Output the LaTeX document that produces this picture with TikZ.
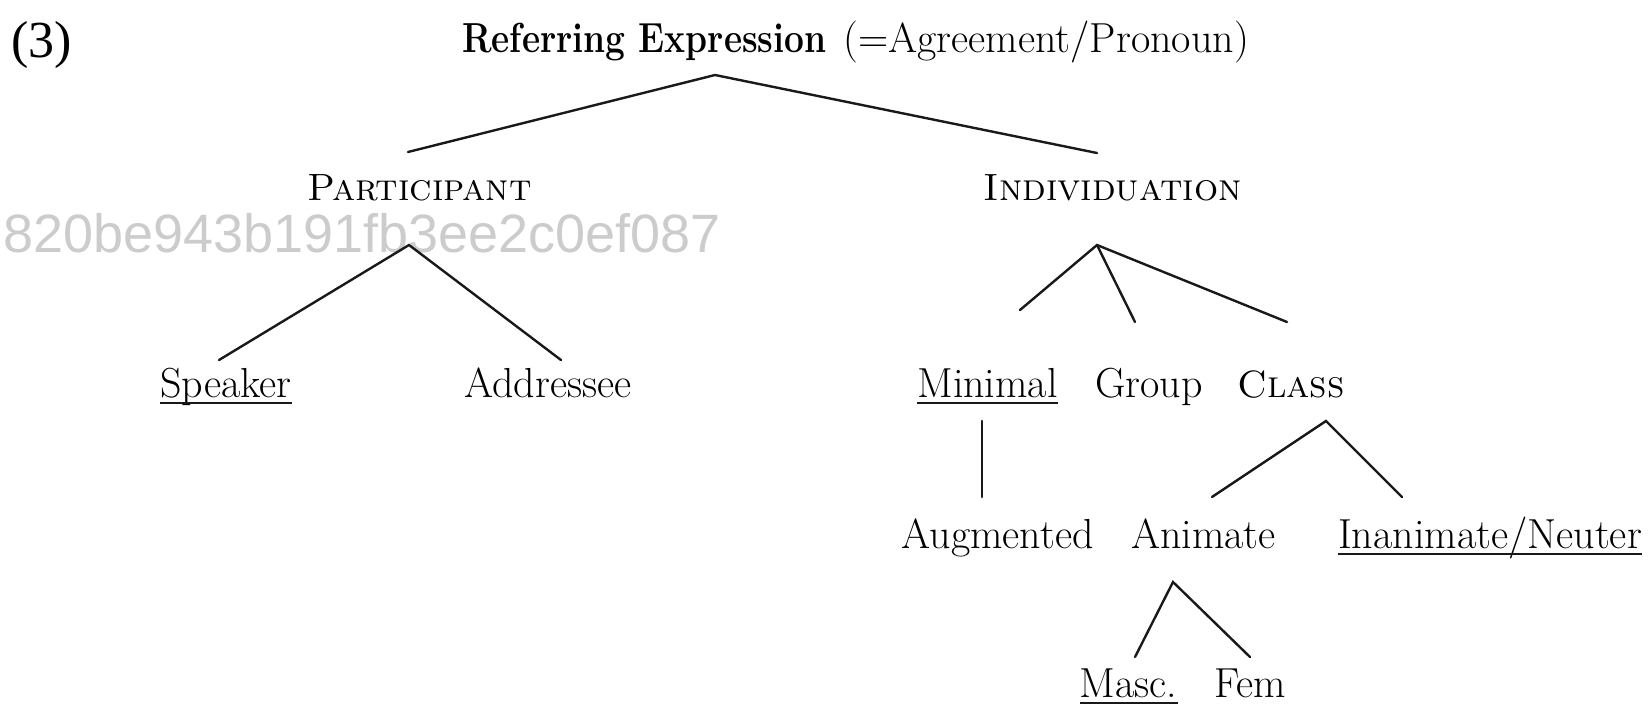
\documentclass[tikz,border=0pt]{standalone}
\usepackage{fontspec}
\usepackage{graphicx}
\newfontfamily\wmfont{Liberation Sans}
\newfontfamily\numfont{Liberation Serif}
\begin{document}
\begin{tikzpicture}[x=1pt,y=-1pt,
  lbl/.style={inner sep=0pt, anchor=base, font=\fontsize{42}{48}\selectfont},
  sclbl/.style={inner sep=0pt, anchor=base, font=\fontsize{38}{44}\selectfont\scshape},
  br/.style={line width=2.4pt, draw=black!90, line cap=round},
  ul/.style={line width=2pt, draw=black!90}]
\useasboundingbox (0,0) rectangle (1651,705);
% watermark
\node[inner sep=0pt, anchor=base west, text=black!20, font=\wmfont\fontsize{54}{60}\selectfont] (wm) at (3,252) {820be943b191fb3ee2c0ef087};
% example number
\node[inner sep=0pt, anchor=base west, font=\numfont\fontsize{52}{60}\selectfont] (num) at (11,57) {(3)};
% title
\node[lbl, anchor=base west] (root) at (462,52) {\scalebox{0.84}[1]{\bfseries Referring Expression}\hspace{17pt}(=Agreement/Pronoun)};
% level 1
\node[sclbl] (part) at (419.5,200) {Participant};
\node[sclbl] (indiv) at (1112.5,200) {Individuation};
% level 2
\node[lbl] (spk) at (226,397) {Speaker};
\node[lbl] (addr) at (548,397) {Addressee};
\node[lbl] (min) at (987.5,397) {Minimal};
\node[lbl] (grp) at (1149,397) {Group};
\node[sclbl] (cls) at (1291,397) {Class};
% level 3
\node[lbl] (aug) at (997.5,548) {Augmented};
\node[lbl] (anim) at (1203.5,548) {Animate};
\node[lbl] (inan) at (1490,548) {Inanimate/Neuter};
% level 4
\node[lbl] (masc) at (1128.5,697) {Masc.};
\node[lbl] (fem) at (1250,697) {Fem};
% underlines
\foreach \n in {spk,min,inan,masc}
  \draw[ul] ([yshift=-6pt]\n.base west) -- ([yshift=-6pt]\n.base east);
% branch points
\coordinate (rootA) at (715,75);
\coordinate (rootL) at (408,152);
\coordinate (rootR) at (1097,153);
\coordinate (partA) at (409,245);
\coordinate (partL) at (219,360);
\coordinate (partR) at (561,360);
\coordinate (indA) at (1097,245);
\coordinate (indL) at (1020,310);
\coordinate (indM) at (1135,322);
\coordinate (indR) at (1287,322);
\coordinate (minA) at (982,421);
\coordinate (minB) at (982,497);
\coordinate (clsA) at (1326,421);
\coordinate (clsL) at (1212,497);
\coordinate (clsR) at (1402,497);
\coordinate (anA) at (1173,582);
\coordinate (anL) at (1135,657);
\coordinate (anR) at (1250,657);
% branches
\draw[br] (rootL) -- (rootA) -- (rootR);
\draw[br] (partL) -- (partA) -- (partR);
\draw[br] (indL) -- (indA) -- (indR);
\draw[br] (indA) -- (indM);
\draw[br] (minA) -- (minB);
\draw[br] (clsL) -- (clsA) -- (clsR);
\draw[br] (anL) -- (anA) -- (anR);
\end{tikzpicture}
\end{document}
